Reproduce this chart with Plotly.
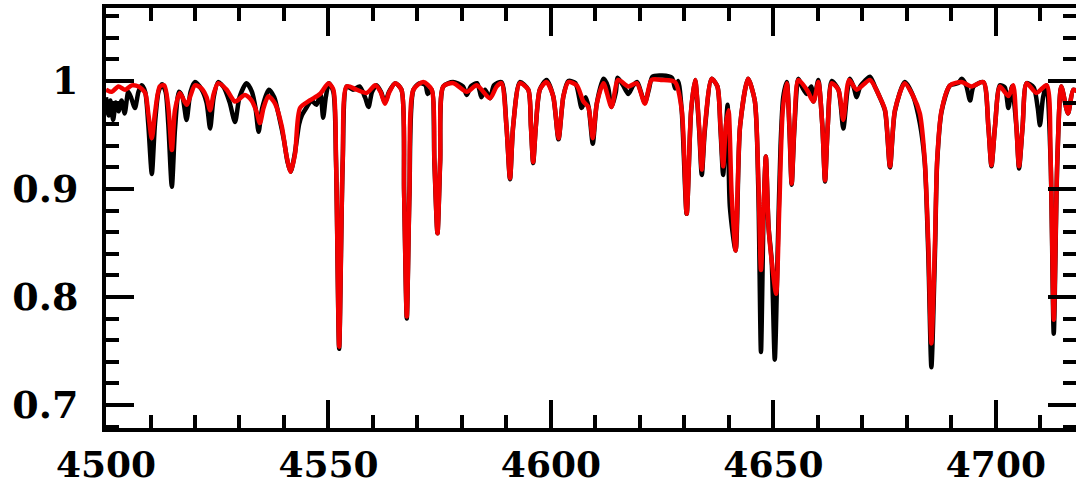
import plotly.graph_objects as go

# Model spectrum (red) - wavelength [A] and normalized flux
wave_model = [
    4500.0, 4501.3, 4502.8, 4504.3, 4505.8, 4507.3, 4508.8, 4509.5, 4510.3, 4511.0,
    4512.1, 4513.1, 4514.0, 4514.8, 4515.5, 4516.6, 4518.1, 4520.0, 4521.5, 4522.6,
    4523.4, 4524.2, 4525.2, 4527.1, 4529.0, 4531.2, 4532.7, 4533.8, 4534.6, 4535.4,
    4536.5, 4538.0, 4539.5, 4540.6, 4541.5, 4542.5, 4543.6, 4545.8, 4548.1, 4550.0,
    4551.1, 4551.7, 4552.4, 4553.2, 4554.1, 4556.3, 4558.6, 4560.5, 4561.7, 4562.7,
    4563.7, 4565.0, 4566.4, 4567.0, 4567.6, 4568.2, 4569.1, 4571.3, 4573.2, 4573.8,
    4574.5, 4575.1, 4575.8, 4578.1, 4581.1, 4583.3, 4586.3, 4587.8, 4588.9, 4590.0,
    4590.8, 4591.5, 4593.0, 4594.9, 4595.5, 4596.0, 4596.6, 4597.5, 4599.0, 4600.5,
    4601.7, 4602.8, 4603.9, 4605.8, 4607.3, 4608.4, 4609.4, 4610.3, 4611.8, 4613.6,
    4615.1, 4617.4, 4619.3, 4621.1, 4622.6, 4624.9, 4627.9, 4629.4, 4630.5, 4631.5,
    4632.4, 4633.3, 4633.9, 4634.6, 4636.1, 4637.4, 4638.1, 4638.7, 4639.3, 4639.9,
    4640.6, 4641.5, 4642.5, 4644.3, 4645.8, 4646.6, 4647.2, 4647.9, 4648.3, 4648.9,
    4649.6, 4650.6, 4651.3, 4652.1, 4653.0, 4653.6, 4654.1, 4654.7, 4655.6, 4657.5,
    4659.0, 4660.1, 4661.0, 4661.6, 4662.2, 4663.1, 4664.6, 4665.7, 4667.0, 4668.7,
    4671.7, 4673.9, 4675.1, 4676.2, 4677.3, 4679.5, 4681.4, 4682.9, 4684.0, 4684.8,
    4685.5, 4686.3, 4686.8, 4687.8, 4689.7, 4692.3, 4694.5, 4697.2, 4698.3, 4699.0,
    4699.8, 4700.9, 4702.8, 4703.9, 4704.6, 4705.2, 4706.0, 4706.9, 4709.1, 4711.4,
    4712.3, 4713.0, 4713.8, 4714.7, 4716.2, 4717.4, 4718.5,
]
flux_model = [
    0.992, 0.990, 0.995, 0.992, 0.996, 0.995, 0.989, 0.970, 0.947, 0.970,
    0.995, 0.996, 0.976, 0.936, 0.973, 0.989, 0.978, 0.996, 0.993, 0.985,
    0.973, 0.988, 0.998, 0.992, 0.981, 0.987, 0.982, 0.972, 0.961, 0.975,
    0.986, 0.979, 0.958, 0.930, 0.916, 0.933, 0.975, 0.982, 0.988, 0.998,
    0.992, 0.927, 0.754, 0.927, 0.995, 0.992, 0.989, 0.996, 0.990, 0.979,
    0.990, 0.998, 0.992, 0.896, 0.782, 0.896, 0.992, 0.999, 0.992, 0.927,
    0.859, 0.927, 0.995, 0.998, 0.990, 0.996, 0.984, 0.995, 0.998, 0.958,
    0.910, 0.958, 0.998, 0.992, 0.958, 0.925, 0.958, 0.992, 0.999, 0.986,
    0.947, 0.986, 0.999, 0.996, 0.981, 0.976, 0.947, 0.979, 0.998, 0.976,
    1.001, 0.995, 0.998, 0.979, 1.001, 1.001, 0.999, 0.973, 0.877, 0.973,
    1.001, 0.958, 0.918, 0.958, 1.002, 0.995, 0.958, 0.921, 0.958, 0.973,
    0.896, 0.843, 0.958, 1.002, 0.982, 0.911, 0.825, 0.896, 0.930, 0.865,
    0.834, 0.803, 0.881, 0.973, 0.998, 0.958, 0.905, 0.958, 1.001, 0.992,
    0.981, 0.999, 0.958, 0.908, 0.958, 0.998, 0.992, 0.964, 1.001, 0.992,
    1.001, 0.985, 0.973, 0.921, 0.973, 0.998, 0.986, 0.970, 0.927, 0.850,
    0.757, 0.850, 0.927, 0.973, 0.996, 0.999, 0.995, 0.999, 0.958, 0.922,
    0.958, 0.995, 0.986, 0.996, 0.958, 0.921, 0.958, 0.998, 0.989, 0.996,
    0.927, 0.779, 0.927, 0.995, 0.970, 0.992, 0.990,
]

# Observed spectrum (black)
wave_obs = [
    4500.0, 4500.6, 4501.0, 4501.6, 4502.2, 4502.8, 4503.5, 4504.2, 4505.0, 4505.6,
    4506.5, 4507.3, 4508.0, 4508.8, 4509.5, 4510.3, 4511.0, 4511.8, 4512.6, 4513.4,
    4514.0, 4514.8, 4515.5, 4516.4, 4517.2, 4518.1, 4519.0, 4520.0, 4521.5, 4522.6,
    4523.4, 4524.2, 4525.2, 4526.5, 4527.8, 4529.0, 4530.0, 4531.6, 4532.8, 4533.6,
    4534.3, 4535.1, 4536.6, 4537.8, 4539.0, 4540.0, 4540.8, 4541.5, 4542.4, 4543.4,
    4544.0, 4545.0, 4546.2, 4547.3, 4548.2, 4548.8, 4549.4, 4550.1, 4551.1, 4551.7,
    4552.4, 4553.2, 4554.1, 4555.5, 4557.0, 4558.2, 4559.0, 4559.8, 4560.8, 4561.8,
    4562.7, 4563.6, 4565.0, 4566.4, 4567.0, 4567.6, 4568.2, 4569.1, 4570.5, 4571.8,
    4572.3, 4573.2, 4573.8, 4574.5, 4575.1, 4575.8, 4578.0, 4580.2, 4581.1, 4582.0,
    4583.4, 4584.4, 4585.2, 4586.3, 4587.2, 4588.9, 4590.0, 4590.8, 4591.5, 4593.0,
    4594.9, 4595.5, 4596.0, 4596.6, 4597.5, 4599.0, 4600.5, 4601.7, 4602.8, 4603.9,
    4605.5, 4606.9, 4607.8, 4608.5, 4609.4, 4610.3, 4611.8, 4612.8, 4613.6, 4614.6,
    4615.0, 4616.2, 4617.4, 4618.5, 4619.4, 4620.2, 4621.1, 4622.0, 4622.8, 4625.0,
    4627.2, 4627.9, 4628.6, 4629.4, 4630.5, 4631.5, 4632.4, 4633.3, 4633.9, 4634.6,
    4636.1, 4637.4, 4638.1, 4638.7, 4639.3, 4639.7, 4640.2, 4641.5, 4642.5, 4644.3,
    4645.8, 4646.6, 4647.2, 4647.8, 4648.3, 4648.9, 4649.6, 4650.3, 4651.0, 4651.6,
    4652.2, 4653.0, 4653.6, 4654.1, 4654.7, 4655.6, 4656.5, 4657.5, 4658.5, 4659.0,
    4659.6, 4660.1, 4661.0, 4661.6, 4662.2, 4663.1, 4664.6, 4665.7, 4666.6, 4667.2,
    4668.0, 4668.7, 4669.5, 4670.5, 4671.7, 4672.8, 4673.9, 4675.1, 4676.2, 4677.3,
    4679.5, 4681.4, 4682.9, 4684.0, 4684.8, 4685.5, 4686.3, 4686.8, 4687.8, 4689.7,
    4691.5, 4692.3, 4693.3, 4694.2, 4695.0, 4697.2, 4698.3, 4699.0, 4699.8, 4700.9,
    4702.0, 4702.8, 4703.6, 4704.6, 4705.2, 4706.0, 4706.9, 4708.5, 4709.4, 4709.9,
    4710.6, 4711.4, 4712.3, 4713.0, 4713.8, 4714.7, 4716.2, 4717.4, 4718.5,
]
flux_obs = [
    0.985, 0.968, 0.982, 0.964, 0.980, 0.972, 0.982, 0.970, 0.990, 0.985,
    0.975, 0.990, 0.996, 0.990, 0.960, 0.914, 0.960, 0.990, 0.997, 0.990,
    0.960, 0.902, 0.955, 0.990, 0.985, 0.964, 0.990, 0.999, 0.992, 0.980,
    0.956, 0.985, 0.999, 0.994, 0.980, 0.962, 0.985, 0.998, 0.990, 0.975,
    0.953, 0.975, 0.992, 0.985, 0.965, 0.945, 0.925, 0.916, 0.932, 0.960,
    0.968, 0.975, 0.982, 0.978, 0.988, 0.966, 0.985, 0.998, 0.990, 0.925,
    0.752, 0.925, 0.995, 0.992, 0.995, 0.985, 0.976, 0.990, 0.996, 0.990,
    0.980, 0.990, 0.998, 0.992, 0.896, 0.780, 0.896, 0.992, 0.998, 0.996,
    0.988, 0.992, 0.925, 0.859, 0.925, 0.995, 0.999, 0.995, 0.987, 0.995,
    0.998, 0.985, 0.992, 0.984, 0.996, 0.999, 0.958, 0.909, 0.958, 0.999,
    0.992, 0.958, 0.924, 0.958, 0.992, 1.001, 0.986, 0.946, 0.986, 1.000,
    0.998, 0.975, 0.985, 0.975, 0.942, 0.979, 1.002, 0.995, 0.976, 0.990,
    1.003, 0.996, 0.988, 0.996, 0.999, 0.990, 0.980, 0.992, 1.004, 1.005,
    1.003, 0.993, 1.000, 0.972, 0.877, 0.972, 1.001, 0.955, 0.913, 0.955,
    1.002, 0.995, 0.955, 0.913, 0.955, 0.978, 0.884, 0.843, 0.958, 1.002,
    0.982, 0.900, 0.749, 0.880, 0.930, 0.865, 0.834, 0.742, 0.850, 0.940,
    0.985, 0.999, 0.955, 0.904, 0.955, 1.002, 0.994, 0.988, 0.995, 0.981,
    0.992, 1.001, 0.958, 0.907, 0.958, 1.000, 0.992, 0.956, 0.990, 1.002,
    0.995, 0.985, 0.995, 1.000, 1.004, 0.995, 0.985, 0.972, 0.920, 0.972,
    0.999, 0.986, 0.961, 0.925, 0.840, 0.735, 0.840, 0.925, 0.972, 0.996,
    0.998, 1.002, 0.996, 0.982, 0.995, 0.999, 0.958, 0.921, 0.958, 0.996,
    0.994, 0.975, 0.995, 0.958, 0.919, 0.958, 0.998, 0.994, 0.975, 0.959,
    0.985, 0.996, 0.925, 0.766, 0.925, 0.995, 0.970, 0.992, 0.990,
]

x_ticks = [4500, 4550, 4600, 4650, 4700]
x_labels = ["4500", "4550", "4600", "4650", "4700"]
y_ticks = [0.7, 0.8, 0.9, 1.0]
y_labels = ["0.7", "0.8", "0.9", "1"]

fig = go.Figure()
fig.add_trace(go.Scatter(x=wave_obs, y=flux_obs, mode="lines",
                         line=dict(color="black", width=4.5, shape="spline", smoothing=0.7),
                         showlegend=False))
fig.add_trace(go.Scatter(x=wave_model, y=flux_model, mode="lines",
                         line=dict(color="#f20000", width=4.5, shape="spline", smoothing=0.7),
                         showlegend=False))

x_font = dict(family="DejaVu Serif", size=36, color="black", weight="bold")
y_font = dict(family="DejaVu Serif", size=38, color="black", weight="bold")

fig.update_layout(
    width=1076, height=489,
    margin=dict(l=106, r=0, t=8, b=61, autoexpand=False),
    paper_bgcolor="white", plot_bgcolor="white",
    xaxis=dict(
        range=[4500, 4718], tickmode="array", tickvals=x_ticks, ticktext=x_labels,
        ticks="inside", ticklen=28, tickwidth=4, tickcolor="black",
        showline=True, linewidth=4, linecolor="black", mirror="ticks",
        showgrid=False, zeroline=False, tickfont=x_font, ticklabelstandoff=2,
        automargin=False,
        minor=dict(dtick=10, tick0=4500, ticks="inside", ticklen=13, tickwidth=4,
                   tickcolor="black", showgrid=False),
    ),
    yaxis=dict(
        range=[0.6787, 1.0676], tickmode="array", tickvals=y_ticks, ticktext=y_labels,
        ticks="inside", ticklen=28, tickwidth=4, tickcolor="black",
        showline=True, linewidth=4, linecolor="black", mirror="ticks",
        showgrid=False, zeroline=False, tickfont=y_font, ticklabelstandoff=16,
        automargin=False,
        minor=dict(dtick=0.02, tick0=0.7, ticks="inside", ticklen=13, tickwidth=4,
                   tickcolor="black", showgrid=False),
    ),
)

fig.write_html("out.html")
